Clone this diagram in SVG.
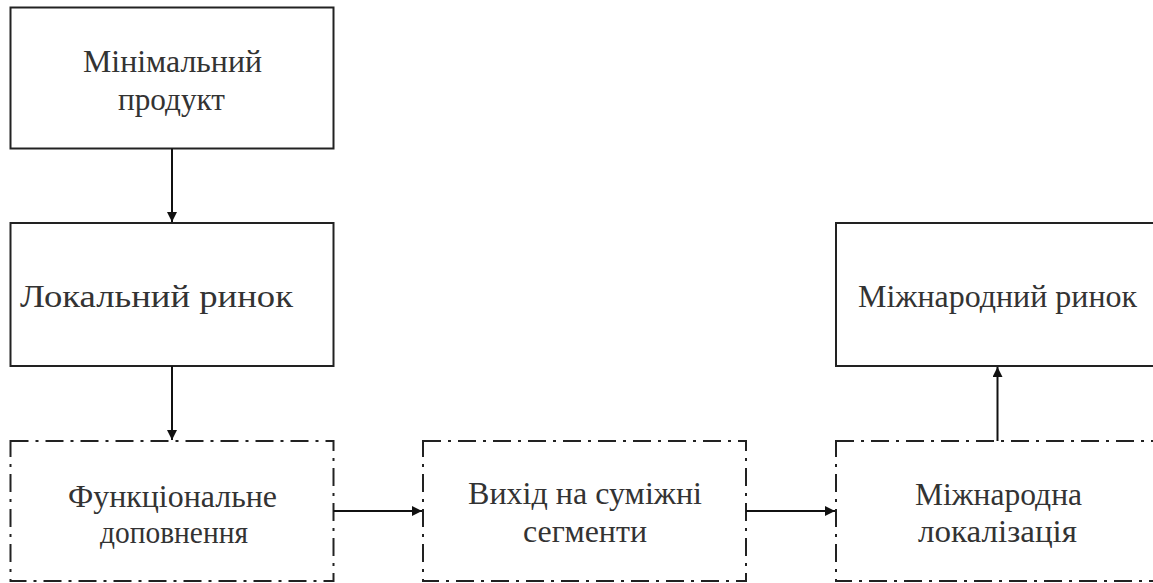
<svg xmlns="http://www.w3.org/2000/svg" width="1153" height="583" viewBox="0 0 1153 583">
  <defs>
    <style>
      .box { fill: #fff; stroke: #222; stroke-width: 2; }
      .dash { fill: #fff; stroke: #222; stroke-width: 2; stroke-dasharray: 18 7 3 7; }
      .lbl { font-family: "Liberation Serif", "Times New Roman", serif; font-size: 32px; fill: #333; text-anchor: middle; }
      .conn { stroke: #111; stroke-width: 2; fill: none; marker-end: url(#arr); }
    </style>
    <marker id="arr" viewBox="0 0 10 10" refX="10" refY="5" markerWidth="5" markerHeight="5" orient="auto" markerUnits="strokeWidth">
      <path d="M0,0 L10,5 L0,10 z" fill="#111"/>
    </marker>
  </defs>
  <rect width="1153" height="583" fill="#fff"/>
  <g id="n1">
    <rect class="box" x="10.5" y="7.5" width="323" height="141"/>
    <text class="lbl" x="172.5" y="72" textLength="179" lengthAdjust="spacingAndGlyphs">Мінімальний</text>
    <text class="lbl" x="171.5" y="110" textLength="107" lengthAdjust="spacingAndGlyphs">продукт</text>
  </g>
  <g id="n2">
    <rect class="box" x="10.5" y="223" width="323" height="143"/>
    <text class="lbl" x="156.5" y="307" textLength="273" lengthAdjust="spacingAndGlyphs">Локальний ринок</text>
  </g>
  <g id="n3">
    <rect class="dash" x="10.5" y="441" width="323" height="140"/>
    <text class="lbl" x="172.5" y="507" textLength="209" lengthAdjust="spacingAndGlyphs">Функціональне</text>
    <text class="lbl" x="174" y="543" textLength="148" lengthAdjust="spacingAndGlyphs">доповнення</text>
  </g>
  <g id="n4">
    <rect class="dash" x="423" y="441" width="323" height="140"/>
    <text class="lbl" x="585" y="504" textLength="234" lengthAdjust="spacingAndGlyphs">Вихід на суміжні</text>
    <text class="lbl" x="585" y="542" textLength="124" lengthAdjust="spacingAndGlyphs">сегменти</text>
  </g>
  <g id="n5">
    <rect class="dash" x="836" y="441" width="323" height="140"/>
    <text class="lbl" x="998.5" y="505" textLength="167" lengthAdjust="spacingAndGlyphs">Міжнародна</text>
    <text class="lbl" x="997.5" y="542" textLength="159" lengthAdjust="spacingAndGlyphs">локалізація</text>
  </g>
  <g id="n6">
    <rect class="box" x="836" y="223" width="323" height="143"/>
    <text class="lbl" x="997.5" y="307" textLength="279" lengthAdjust="spacingAndGlyphs">Міжнародний ринок</text>
  </g>
  <g id="connectors">
    <line class="conn" x1="172" y1="148.5" x2="172" y2="222"/>
    <line class="conn" x1="172" y1="366" x2="172" y2="440"/>
    <line class="conn" x1="333.5" y1="511" x2="422" y2="511"/>
    <line class="conn" x1="746" y1="511" x2="835" y2="511"/>
    <line class="conn" x1="997.5" y1="441" x2="997.5" y2="367"/>
  </g>
</svg>
